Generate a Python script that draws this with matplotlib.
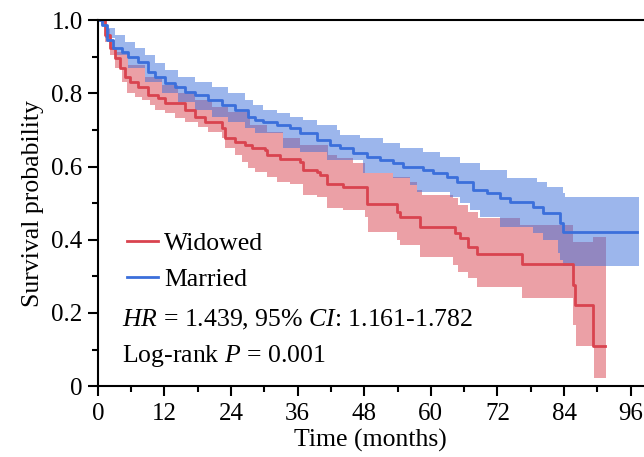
import numpy as np
import matplotlib
matplotlib.use('Agg')
import matplotlib.pyplot as plt
from matplotlib.ticker import MultipleLocator, FixedLocator

plt.rcParams['font.family'] = 'Liberation Serif'
plt.rcParams['mathtext.fontset'] = 'custom'
plt.rcParams['mathtext.rm'] = 'Liberation Serif'
plt.rcParams['mathtext.it'] = 'Liberation Serif:italic'

# Widowed group: KM estimate and 95% CI
wid_t = [0, 1.3, 2.2, 3.1, 4.0, 4.9, 5.8, 7.2, 9.0, 10.8, 12.1, 15.7, 17.5, 19.3, 22.3, 22.9,
         24.7, 26.5, 27.7, 30.1, 30.5, 32.8, 36.4, 36.9, 39.5, 40.0, 41.3, 44.1, 48.5, 53.9,
         54.4, 58.0, 64.3, 65.2, 66.7, 68.3, 76.4, 85.6, 85.9, 89.2]
wid_s = [1.0, 0.959, 0.923, 0.896, 0.869, 0.844, 0.831, 0.817, 0.795, 0.787, 0.773, 0.754, 0.735,
         0.721, 0.705, 0.678, 0.667, 0.658, 0.650, 0.645, 0.631, 0.620, 0.612, 0.590, 0.585,
         0.577, 0.552, 0.544, 0.497, 0.475, 0.462, 0.434, 0.418, 0.404, 0.380, 0.361, 0.333,
         0.276, 0.221, 0.109]
wid_end = 91.4

wid_lo_t = [0, 0.5, 1.3, 2.2, 3.1, 4.3, 5.2, 6.7, 7.9, 9.4, 10.3, 12.1, 13.9, 15.7, 18.0, 19.8,
            22.3, 22.9, 24.7, 25.9, 27.0, 28.3, 30.5, 32.3, 34.6, 36.9, 39.5, 41.3, 44.1, 48.1,
            48.6, 53.9, 54.4, 58.0, 64.0, 64.9, 66.7, 68.3, 76.4, 85.6, 86.1, 89.4]
wid_lo = [1.0, 0.986, 0.940, 0.904, 0.869, 0.831, 0.801, 0.790, 0.781, 0.768, 0.754, 0.746,
          0.732, 0.721, 0.708, 0.694, 0.678, 0.650, 0.631, 0.612, 0.596, 0.585, 0.571, 0.557,
          0.552, 0.522, 0.516, 0.486, 0.481, 0.462, 0.421, 0.399, 0.385, 0.352, 0.331, 0.311,
          0.295, 0.270, 0.240, 0.167, 0.109, 0.022]
wid_hi_t = [0, 1.3, 2.2, 3.1, 5.4, 8.5, 11.5, 14.4, 17.5, 20.5, 23.4, 27.5, 30.5, 33.3, 36.4,
            41.4, 43.1, 45.9, 48.1, 53.2, 56.2, 57.5, 58.4, 64.0, 64.9, 66.7, 68.5, 76.0, 85.6, 89.2]
wid_hi = [1.0, 0.975, 0.945, 0.913, 0.877, 0.844, 0.822, 0.801, 0.781, 0.762, 0.749, 0.713,
          0.694, 0.678, 0.658, 0.631, 0.623, 0.609, 0.582, 0.571, 0.557, 0.536, 0.522, 0.514,
          0.495, 0.475, 0.459, 0.440, 0.393, 0.407]

# Married group
mar_t = [0, 0.7, 1.6, 2.7, 4.3, 5.4, 7.2, 9.0, 10.3, 12.1, 13.9, 15.7, 17.5, 19.8, 22.3, 24.7,
         27.0, 28.3, 29.7, 32.3, 34.6, 36.4, 39.5, 41.8, 43.6, 45.9, 48.5, 50.8, 53.2, 55.0,
         58.6, 60.4, 62.9, 64.7, 67.6, 70.1, 72.4, 74.2, 78.4, 80.2, 83.2, 83.8]
mar_s = [1.0, 0.986, 0.945, 0.923, 0.913, 0.899, 0.885, 0.858, 0.844, 0.828, 0.817, 0.803,
         0.795, 0.781, 0.768, 0.754, 0.735, 0.727, 0.721, 0.713, 0.705, 0.691, 0.672, 0.658,
         0.650, 0.637, 0.626, 0.617, 0.609, 0.598, 0.590, 0.582, 0.571, 0.557, 0.536, 0.527,
         0.514, 0.503, 0.489, 0.473, 0.445, 0.421]
mar_end = 97.1

mar_hi_t = [0, 1.3, 3.1, 4.9, 6.7, 8.5, 10.3, 12.1, 14.4, 17.5, 20.5, 23.4, 26.5, 28.0, 29.7,
            32.3, 34.6, 36.9, 39.5, 43.1, 43.6, 47.2, 51.4, 54.4, 58.6, 61.6, 65.2, 68.8, 73.7,
            79.1, 80.9, 83.8, 84.1]
mar_hi = [1.0, 0.978, 0.959, 0.940, 0.923, 0.904, 0.883, 0.863, 0.844, 0.831, 0.817, 0.801,
          0.781, 0.768, 0.754, 0.746, 0.735, 0.727, 0.713, 0.699, 0.686, 0.678, 0.664, 0.650,
          0.639, 0.626, 0.609, 0.590, 0.568, 0.557, 0.544, 0.527, 0.516]
mar_lo_t = [0, 1.3, 3.1, 5.4, 8.5, 11.5, 14.4, 17.5, 20.5, 23.4, 26.5, 28.3, 33.3, 36.4, 41.3,
            47.7, 53.2, 56.2, 57.5, 63.4, 65.2, 67.0, 68.8, 72.4, 78.4, 80.2, 82.9, 83.2, 83.8]
mar_lo = [1.0, 0.951, 0.904, 0.869, 0.831, 0.801, 0.776, 0.754, 0.735, 0.721, 0.705, 0.691,
          0.650, 0.639, 0.617, 0.582, 0.568, 0.549, 0.530, 0.516, 0.500, 0.481, 0.462, 0.434,
          0.418, 0.399, 0.363, 0.344, 0.328]
mar_band_end = 97.5

red = '#D9434F'
blue = '#3B6FDB'
fs = 18.5


def step_at(t, times, vals):
    idx = np.searchsorted(times, t, side='right') - 1
    return np.asarray(vals)[idx]


def band(ax, lo_t, lo, hi_t, hi, end, color):
    tt = np.union1d(lo_t, hi_t)
    tt = np.append(tt[tt < end], end)
    ax.fill_between(tt, step_at(tt, lo_t, lo), step_at(tt, hi_t, hi),
                    step='post', color=color, alpha=0.5, lw=0)


fig = plt.figure(figsize=(6.44, 4.57), dpi=100)
ax = fig.add_axes([0.152, 0.155, 0.847, 0.801])

band(ax, wid_lo_t, wid_lo, wid_hi_t, wid_hi, wid_end + 0.1, red)
band(ax, mar_lo_t, mar_lo, mar_hi_t, mar_hi, mar_band_end, blue)

ax.step(wid_t + [wid_end], wid_s + [wid_s[-1]], where='post', color=red, lw=2, label='Widowed')
ax.step(mar_t + [mar_end], mar_s + [mar_s[-1]], where='post', color=blue, lw=2, label='Married')

ax.set_xlim(0, 98.3)
ax.set_ylim(0, 1.0)
ax.xaxis.set_major_locator(MultipleLocator(12))
ax.xaxis.set_minor_locator(MultipleLocator(6))
ax.yaxis.set_major_locator(FixedLocator([0, 0.2, 0.4, 0.6, 0.8, 1.0]))
ax.yaxis.set_minor_locator(MultipleLocator(0.1))
ax.set_yticklabels(['0', '0.2', '0.4', '0.6', '0.8', '1.0'])
ax.tick_params(which='major', direction='out', length=7, width=1.5, labelsize=18)
ax.tick_params(axis='x', which='major', pad=5)
ax.tick_params(axis='y', which='major', pad=4)
ax.tick_params(which='minor', direction='out', length=4.5, width=1.5)
for s in ['left', 'bottom', 'top']:
    ax.spines[s].set_linewidth(1.5)
ax.spines['right'].set_visible(False)

ax.set_xlabel('Time (months)', fontsize=fs, labelpad=3)
ax.set_ylabel('Survival probability', fontsize=fs, labelpad=5)

ax.legend(loc='upper left', bbox_to_anchor=(0.02, 0.47), frameon=False, fontsize=fs,
          handlelength=1.2, handletextpad=0.25, labelspacing=0.5, borderpad=0.2)
ax.text(0.044, 0.164, r'$\mathit{HR}$ = 1.439, 95% $\mathit{CI}$: 1.161-1.782',
        transform=ax.transAxes, fontsize=fs, va='baseline')
ax.text(0.044, 0.066, r'Log-rank $\mathit{P}$ = 0.001',
        transform=ax.transAxes, fontsize=fs, va='baseline')

fig.savefig('out.png', dpi=100)
